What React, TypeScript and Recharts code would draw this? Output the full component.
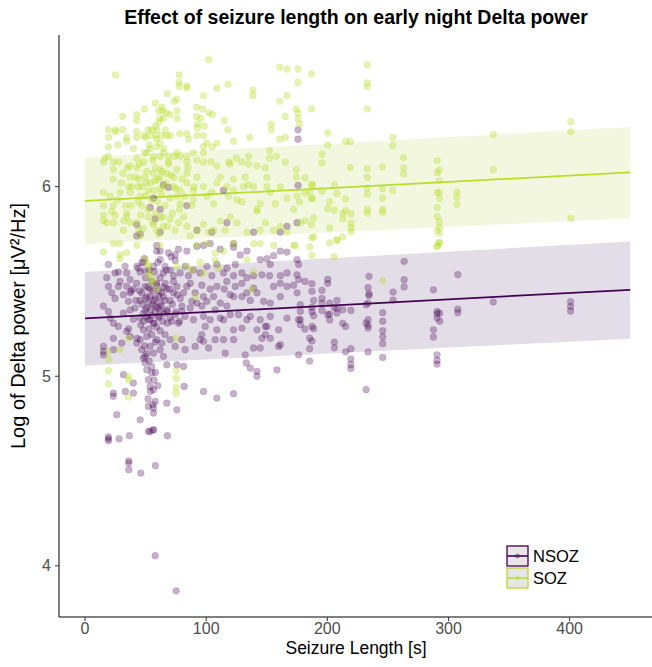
import React from "react";
import { ComposedChart, XAxis, YAxis, Area, Line, Scatter } from "recharts";

// Seizure length [s] vs log Delta power, NSOZ channels
const nsozPoints: [number, number][] = [
  [59.2,5.69],[59.2,5.66],[68.9,5.65],[74.4,5.64],[77.1,5.67],[84.0,5.66],[92.3,5.685],[97.8,5.69],[103.3,5.70],[111.6,5.67],
  [122.6,5.70],[122.6,5.68],[128.1,5.64],[133.6,5.66],[144.6,5.615],[150.1,5.62],[155.7,5.636],[161.2,5.66],[166.7,5.655],[175.0,5.615],
  [176.3,5.59],[19.3,5.59],[24.8,5.545],[27.5,5.55],[33.1,5.58],[34.4,5.545],[37.2,5.51],[42.7,5.58],[45.5,5.55],[48.2,5.60],
  [49.6,5.56],[56.5,5.58],[62.0,5.615],[64.7,5.545],[70.3,5.56],[73.0,5.53],[74.4,5.61],[78.5,5.545],[82.6,5.58],[85.4,5.53],
  [89.5,5.56],[95.0,5.545],[100.6,5.58],[104.7,5.53],[108.8,5.59],[114.3,5.545],[117.1,5.57],[122.6,5.53],[124.0,5.59],[129.5,5.545],
  [133.6,5.52],[139.1,5.53],[146.0,5.535],[152.9,5.59],[152.3,5.53],[161.2,5.53],[166.7,5.545],[175.0,5.535],[176.3,5.51],[17.9,5.52],
  [19.3,5.474],[22.0,5.44],[24.8,5.41],[27.5,5.474],[28.9,5.50],[31.7,5.43],[34.4,5.474],[35.8,5.395],[37.2,5.44],[39.9,5.46],
  [42.7,5.49],[45.5,5.40],[46.8,5.44],[49.6,5.474],[51.0,5.42],[52.3,5.386],[53.7,5.46],[56.5,5.40],[59.2,5.49],[60.6,5.45],
  [62.0,5.386],[64.7,5.42],[66.1,5.49],[67.5,5.46],[70.3,5.40],[73.0,5.44],[75.8,5.474],[78.5,5.41],[81.3,5.44],[84.0,5.474],
  [86.8,5.49],[88.2,5.395],[90.9,5.44],[92.3,5.386],[96.4,5.48],[97.8,5.42],[100.6,5.395],[103.3,5.46],[106.1,5.42],[108.8,5.474],
  [111.6,5.386],[114.9,5.46],[117.1,5.50],[119.8,5.43],[122.6,5.42],[124.0,5.474],[129.5,5.49],[129.5,5.42],[133.6,5.44],[136.4,5.40],
  [139.1,5.465],[141.9,5.44],[147.4,5.395],[152.9,5.386],[155.7,5.474],[161.2,5.49],[161.2,5.42],[166.7,5.474],[172.2,5.48],[175.0,5.44],
  [177.7,5.377],[15.2,5.37],[19.3,5.342],[20.7,5.307],[23.4,5.28],[27.5,5.263],[31.7,5.333],[37.2,5.35],[41.3,5.36],[45.5,5.307],
  [48.2,5.29],[49.6,5.35],[51.0,5.316],[53.7,5.298],[56.5,5.28],[57.9,5.37],[60.6,5.316],[62.0,5.35],[67.5,5.342],[71.6,5.29],
  [74.4,5.325],[77.1,5.28],[79.9,5.342],[82.6,5.316],[86.8,5.36],[89.5,5.298],[96.4,5.37],[97.8,5.316],[99.2,5.263],[103.3,5.298],
  [107.4,5.35],[111.6,5.307],[114.3,5.298],[117.1,5.37],[119.8,5.325],[122.6,5.245],[126.7,5.325],[129.5,5.254],[133.6,5.298],[136.4,5.316],
  [141.9,5.245],[144.6,5.298],[148.8,5.263],[152.9,5.316],[159.8,5.245],[166.7,5.307],[176.3,5.298],[177.7,5.342],[15.2,5.157],[15.2,5.131],
  [15.2,5.113],[23.4,5.20],[23.4,5.14],[30.3,5.175],[34.4,5.237],[37.2,5.21],[42.7,5.175],[45.5,5.193],[46.8,5.14],[48.2,5.245],
  [49.6,5.105],[51.0,5.21],[53.7,5.157],[56.5,5.122],[59.2,5.193],[62.0,5.14],[63.4,5.175],[64.7,5.105],[70.3,5.193],[74.4,5.157],
  [79.9,5.193],[82.6,5.14],[90.9,5.157],[95.0,5.193],[96.4,5.22],[97.8,5.184],[102.0,5.149],[107.4,5.193],[108.8,5.245],[114.3,5.193],
  [115.7,5.122],[122.6,5.193],[132.2,5.113],[139.1,5.149],[144.6,5.149],[146.0,5.20],[148.8,5.22],[150.1,5.263],[152.9,5.20],[159.8,5.157],
  [161.2,5.166],[176.3,5.113],[31.7,5.008],[23.4,4.911],[23.4,4.894],[26.2,4.797],[33.3,4.92],[39.9,4.964],[39.9,4.911],[48.2,5.096],
  [49.6,5.07],[51.0,5.034],[52.3,4.982],[53.7,4.946],[55.1,5.017],[56.5,4.929],[57.9,4.867],[56.5,4.832],[52.3,4.841],[56.5,4.806],
  [53.7,4.709],[56.5,4.718],[45.5,4.77],[67.5,5.06],[67.5,4.858],[75.8,5.06],[75.8,4.823],[81.3,5.052],[81.8,4.946],[97.8,4.92],
  [108.8,4.885],[122.6,4.908],[133.1,5.07],[136.4,5.043],[141.9,5.026],[141.9,5.00],[158.4,5.034],
  [19.3,4.68],[19.3,4.67],[19.3,4.66],[28.1,4.67],[36.6,4.686],[52.3,4.709],[56.2,4.716],[68.0,4.686],[36.1,4.554],[36.1,4.542],
  [36.1,4.507],[46.0,4.489],[58.1,4.528],[57.9,4.053],[75.2,3.868],
  [64.7,6.01],[68.9,5.996],[56.5,5.94],[53.7,5.89],[62.0,5.88],[57.9,5.83],[42.7,5.80],[45.5,5.75],[62.0,5.76],[42.7,5.74],
  [84.0,5.90],[114.3,5.98],[92.3,5.77],[104.7,5.76],[117.1,5.81],[139.1,5.76],[161.2,5.76],[166.7,5.79],[175.0,5.81],[175.8,6.007],
  [175.8,6.30],[175.8,6.25],
  [45,5.45],[47,5.38],[48,5.33],[50,5.52],[50,5.41],[51,5.36],[52,5.47],[52,5.30],[53,5.56],[53,5.25],
  [54,5.42],[54,5.35],[55,5.50],[55,5.32],[55,5.22],[56,5.45],[56,5.38],[57,5.28],[57,5.55],[58,5.34],
  [58,5.41],[58,5.18],[59,5.48],[59,5.26],[60,5.36],[60,5.60],[61,5.42],[61,5.31],[62,5.24],[62,5.52],
  [63,5.44],[63,5.37],[64,5.29],[65,5.47],[65,5.33],[66,5.40],[66,5.22],[67,5.56],[68,5.35],[68,5.28],
  [70,5.46],[70,5.31],[72,5.38],[73,5.50],[75,5.34],[76,5.43],[78,5.29],[80,5.37],[44,5.57],[46,5.27],
  [49,5.16],[51,5.12],[53,5.08],[55,5.05],[57,4.98],[58,5.02],[60,4.95],[54,4.92],[52,4.88],[56,4.85],
  [42,5.40],[40,5.30],[38,5.45],[36,5.25],[43,5.20],[47,5.60],[49,5.62],[62,5.66],[66,5.58],[71,5.63],
  [181.5,5.50],[187.3,5.488],[187.3,5.448],[188.7,5.40],[187.3,5.363],[187.3,5.34],[188.7,5.319],[187.3,5.263],[188.7,5.251],[181.5,5.249],
  [185.4,5.201],[187.3,5.186],[185.4,5.145],[185.4,5.08],[177.7,5.298],[177.7,5.272],[195.6,5.453],[195.6,5.411],[195.6,5.386],[195.6,5.347],
  [200.3,5.511],[200.3,5.49],[201.9,5.386],[200.3,5.325],[201.9,5.328],[201.9,5.297],[205.8,5.363],[205.8,5.18],[205.8,5.15],[208,5.40],
  [208,5.333],[208,5.358],[212.7,5.351],[212.7,5.279],[215.1,5.263],[215.1,5.129],[219.4,5.347],[219.4,5.145],[219.4,5.092],[219.4,5.062],
  [219.4,5.041],[232,5.377],[233.6,5.467],[234.4,5.527],[234.4,5.435],[234.4,5.426],[233.6,5.386],[232,5.281],[233.6,5.298],[233.6,5.267],
  [233.6,5.254],[233.6,5.128],[232,4.929],[245.7,5.335],[245.7,5.29],[245.7,5.24],[245.7,5.207],[245.7,5.172],[245.7,5.099],[254.3,5.444],
  [254.3,5.402],[263.4,5.606],[263.4,5.509],[263.4,5.471],[287.6,5.456],[287.6,5.245],[287.6,5.207],[290.6,5.342],[290.6,5.33],[290.6,5.307],
  [292.8,5.333],[292.8,5.29],[290.6,5.113],[290.6,5.083],[290.6,5.064],[307.7,5.536],[307.7,5.354],[307.7,5.335],[336.9,5.392],[400.8,5.393],
  [400.8,5.368],[400.8,5.344]
];

// Seizure length [s] vs log Delta power, SOZ channels
const sozPoints: [number, number][] = [
  [25.1,6.59],[102.0,6.67],[160.6,6.63],[166.7,6.62],[175.8,6.62],[77.7,6.59],[77.7,6.55],[77.7,6.53],[84.0,6.53],[84.0,6.52],
  [108.8,6.52],[117.9,6.54],[138.6,6.51],[138.6,6.48],[175.8,6.55],[67.8,6.49],[75.5,6.46],[73.6,6.45],[97.8,6.48],[160.6,6.45],
  [166.7,6.48],[31.1,6.37],[42.7,6.38],[42.7,6.35],[49.0,6.41],[60.9,6.40],[63.4,6.42],[67.0,6.39],[61.7,6.36],[64.7,6.36],
  [70.3,6.38],[76.0,6.40],[76.0,6.36],[92.0,6.42],[97.0,6.41],[102.0,6.39],[105.2,6.38],[114.9,6.35],[92.0,6.37],[95.6,6.36],
  [98.4,6.32],[92.8,6.33],[92.8,6.31],[117.9,6.30],[135.8,6.26],[153.7,6.33],[153.7,6.30],[165.3,6.37],[174.4,6.41],[175.8,6.39],
  [175.8,6.36],[177.1,6.33],[19.3,6.30],[25.1,6.30],[31.1,6.30],[19.3,6.26],[25.1,6.29],[34.4,6.26],[34.4,6.24],[42.7,6.29],
  [42.7,6.26],[48.2,6.27],[52.3,6.30],[53.2,6.27],[58.1,6.32],[59.2,6.30],[58.1,6.27],[63.4,6.27],[66.1,6.30],[67.5,6.27],
  [70.3,6.27],[78.2,6.28],[84.0,6.28],[85.4,6.25],[92.3,6.27],[97.8,6.27],[100.6,6.23],[105.0,6.21],[97.8,6.21],[108.8,6.23],
  [122.6,6.24],[160.6,6.25],[165.3,6.26],[19.3,6.21],[27.0,6.22],[19.3,6.16],[16.5,6.15],[15.2,6.13],[23.4,6.13],[23.4,6.09],
  [22.9,6.04],[27.8,6.13],[31.1,6.07],[37.2,6.11],[37.2,6.05],[42.7,6.15],[42.7,6.10],[48.2,6.13],[51.0,6.18],[53.7,6.20],
  [56.5,6.16],[59.2,6.21],[62.0,6.23],[64.7,6.18],[68.9,6.16],[68.9,6.13],[75.8,6.18],[78.5,6.16],[84.0,6.16],[84.0,6.13],
  [89.5,6.18],[92.3,6.14],[97.8,6.18],[97.8,6.13],[103.9,6.13],[108.8,6.11],[118.5,6.13],[119.8,6.12],[124.8,6.15],[129.5,6.13],
  [135.0,6.16],[135.0,6.12],[141.9,6.11],[148.8,6.10],[152.3,6.15],[152.3,6.19],[157.9,6.16],[165.3,6.13],[174.4,6.09],[174.4,6.05],
  [15.2,5.97],[20.7,5.95],[15.2,5.90],[15.2,5.85],[22.0,5.87],[23.4,5.90],[28.9,5.97],[33.3,5.90],[34.4,5.86],[37.2,5.97],
  [38.6,6.00],[44.1,6.04],[44.1,6.00],[45.5,5.95],[46.8,5.90],[49.6,6.05],[50.4,6.02],[52.3,5.98],[56.5,6.07],[57.9,6.03],
  [62.0,6.09],[62.0,6.05],[62.0,5.99],[64.7,6.00],[67.5,6.07],[73.0,6.05],[73.0,6.00],[75.8,5.95],[78.5,5.91],[78.5,5.98],
  [84.0,6.07],[84.0,6.02],[89.5,5.98],[89.5,5.93],[92.3,6.05],[97.8,6.00],[100.6,5.95],[104.7,5.97],[106.1,5.91],[108.8,6.02],
  [111.6,6.05],[117.1,6.00],[118.5,5.95],[122.6,6.04],[122.6,5.98],[125.4,5.93],[129.5,5.92],[130.9,6.00],[132.2,6.05],[135.0,6.01],
  [139.1,6.00],[141.9,5.88],[144.6,5.91],[150.1,6.05],[150.1,6.00],[152.9,5.97],[157.0,5.91],[161.2,6.00],[166.7,5.94],[172.2,5.88],
  [175.0,5.95],[177.1,5.92],[15.2,5.82],[17.9,5.81],[23.4,5.81],[24.8,5.85],[31.7,5.77],[34.4,5.84],[37.2,5.81],[42.7,5.81],
  [44.1,5.77],[45.5,5.74],[52.3,5.84],[56.5,5.81],[59.2,5.77],[62.0,5.84],[64.7,5.79],[70.3,5.83],[74.4,5.77],[77.1,5.81],
  [81.3,5.84],[84.0,5.79],[86.8,5.74],[92.3,5.77],[97.8,5.80],[102.0,5.76],[106.1,5.77],[111.6,5.82],[115.7,5.77],[119.8,5.84],
  [125.4,5.81],[133.6,5.76],[141.9,5.87],[144.6,5.77],[148.8,5.81],[155.7,5.77],[161.2,5.79],[166.7,5.76],[172.2,5.69],[177.7,5.81],
  [23.4,5.70],[28.4,5.70],[42.7,5.69],[62.0,5.69],[92.3,5.69],[100.6,5.70],[122.6,5.70],[139.1,5.70],[144.6,5.70],[155.7,5.69],
  [173.6,5.69],
  [15.2,5.655],[28.9,5.64],[28.9,5.62],[34.4,5.65],[49.6,5.615],[52.3,5.59],[52.3,5.58],[53.7,5.545],[56.5,5.51],[75.8,5.58],
  [84.0,5.58],[88.2,5.56],[95.0,5.60],[97.8,5.545],[107.4,5.65],[107.4,5.61],[110.2,5.57],[114.3,5.66],[133.6,5.615],[139.1,5.55],
  [52.3,5.53],[55.1,5.495],[59.2,5.46],[90.9,5.42],[137.8,5.46],
  [35.8,5.20],[19.3,5.13],[28.4,5.14],[19.3,5.09],[19.3,5.03],[35.8,5.00],[35.8,4.98],[19.3,4.96],[35.8,4.89],[75.2,5.20],
  [75.2,5.03],[75.2,4.99],[75.2,4.94],[75.2,4.91],
  [40,6.20],[42,6.05],[44,5.92],[45,6.12],[46,5.85],[47,6.00],[48,5.78],[49,6.18],[50,5.95],[51,6.08],
  [52,5.88],[53,6.22],[54,6.02],[55,5.93],[56,6.14],[56,5.80],[57,5.98],[58,6.10],[58,5.86],[59,6.25],
  [60,5.92],[60,6.04],[61,5.75],[62,6.16],[63,5.96],[64,6.08],[64,5.84],[65,6.20],[66,5.90],[67,6.02],
  [68,5.79],[69,6.12],[70,5.94],[71,6.06],[72,5.86],[74,6.16],[75,5.99],[76,6.09],[78,5.88],[80,6.04],
  [82,5.95],[85,6.10],[88,5.90],[90,6.00],[36,6.00],[38,5.90],[35,6.10],[32,5.82],[30,6.02],[27,5.93],
  [61,6.34],[55,6.30],[50,6.26],[64,6.40],[58,6.44],
  [187,6.595],[187,6.41],[187,6.01],[187,5.937],[187,5.80],[187,5.73],[233,6.642],[233,6.547],[233,6.528],[233,6.41],
  [233,6.095],[233,6.05],[233,5.993],[233,5.96],[233,5.88],[233,5.86],[245.6,6.105],[245.6,5.988],[245.6,5.94],[245.6,5.88],
  [245.6,5.865],[254,6.26],[254,6.215],[254,5.98],[263,6.153],[263,6.10],[263,6.067],[290.6,6.137],[292.5,6.088],[290.6,6.074],
  [292.5,6.032],[290.6,5.97],[292.5,5.97],[292.5,5.938],[290.6,5.89],[290.6,5.843],[292.5,5.815],[292.5,5.785],[290.6,5.768],[292.5,5.755],
  [292.5,5.705],[290.6,5.685],[307,5.972],[307,5.944],[307,5.907],[337,6.276],[337,6.09],[401,6.343],[401,6.289],[401,5.833],
  [181.5,6.046],[181.5,5.965],[185.4,5.970],[187.6,6.009],[187.6,5.938],[188.7,5.835],[181.8,5.821],[185.4,5.682],[188.7,5.735],[195.6,6.171],
  [195.6,6.125],[195.6,5.977],[200.3,6.283],[200.3,6.22],[200.3,5.884],[201.9,5.919],[201.9,5.782],[201.9,5.703],[205.8,6.011],[205.8,5.877],
  [208,5.963],[208,5.72],[212.7,5.859],[212.7,5.831],[212.7,5.735],[215.1,6.239],[219,6.236],[215.1,5.935],[215.1,5.873],[219,6.10],
  [219.6,5.857],[219.6,5.808],[219.6,5.784],[219.6,5.761],
  [187.3,5.638],[205.8,5.631],[208,5.717],[245.7,5.504],[290.6,5.687],[292.5,5.703]
];

// Fitted regression lines and confidence bands
const fitLength = [0, 450];
const nsozFit = [5.305, 5.456];
const nsozLower = [5.057, 5.198];
const nsozUpper = [5.55, 5.711];
const sozFit = [5.925, 6.075];
const sozLower = [5.698, 5.833];
const sozUpper = [6.155, 6.315];

const xTicks = [0, 100, 200, 300, 400];
const yTicks = [4, 5, 6];
const groups = ["NSOZ", "SOZ"];

const NSOZ_COLOR = "#440154";
const SOZ_COLOR = "#b8de29";
const NSOZ_BAND = "#e2dde6";
const SOZ_BAND = "#f3f7e0";
const FONT = "'Liberation Sans', Arial, Helvetica, sans-serif";

const fitData = fitLength.map((x, i) => ({
  x,
  nBand: [nsozLower[i], nsozUpper[i]],
  nFit: nsozFit[i],
  sBand: [sozLower[i], sozUpper[i]],
  sFit: sozFit[i],
}));

const nsozData = nsozPoints.map(([x, y]) => ({ x, y }));
const sozData = sozPoints.map(([x, y]) => ({ x, y }));

const dot = (color: string, alpha: number) => (props: any) => (
  <circle cx={props.cx} cy={props.cy} r={3.4} fill={color} fillOpacity={alpha} stroke={color} strokeOpacity={alpha} strokeWidth={0.4} />
);

export default function App() {
  return (
    <div style={{ position: "absolute", left: 0, top: 0, width: 652, height: 667, fontFamily: FONT, background: "#fff" }}>
      <ComposedChart width={652} height={667} data={fitData} margin={{ top: 35, right: 0, bottom: 0, left: 0 }}>
        <XAxis
          type="number"
          dataKey="x"
          domain={[-21.5, 468]}
          ticks={xTicks}
          allowDataOverflow
          height={50}
          tickSize={4}
          tickMargin={2}
          stroke="#000"
          tickLine={{ stroke: "#333" }}
          tick={{ fill: "#4d4d4d", fontSize: 16, fontFamily: FONT }}
        />
        <YAxis
          type="number"
          dataKey="y"
          domain={[3.73, 6.8]}
          ticks={yTicks}
          allowDataOverflow
          width={59}
          tickSize={4}
          tickMargin={4}
          stroke="#000"
          tickLine={{ stroke: "#333" }}
          tick={{ fill: "#4d4d4d", fontSize: 16, fontFamily: FONT }}
        />
        <Area type="linear" dataKey="nBand" stroke="none" fill={NSOZ_BAND} fillOpacity={1} isAnimationActive={false} />
        <Area type="linear" dataKey="sBand" stroke="none" fill={SOZ_BAND} fillOpacity={1} isAnimationActive={false} />
        <Scatter name="NSOZ" data={nsozData} shape={dot(NSOZ_COLOR, 0.3)} isAnimationActive={false} />
        <Scatter name="SOZ" data={sozData} shape={dot(SOZ_COLOR, 0.36)} isAnimationActive={false} />
        <Line type="linear" dataKey="nFit" stroke={NSOZ_COLOR} strokeWidth={1.8} dot={false} isAnimationActive={false} />
        <Line type="linear" dataKey="sFit" stroke={SOZ_COLOR} strokeWidth={1.8} dot={false} isAnimationActive={false} />
      </ComposedChart>
      <svg width={652} height={667} style={{ position: "absolute", left: 0, top: 0, pointerEvents: "none" }}>
        <text x={356} y={24} textAnchor="middle" fontSize={19.5} fontWeight="bold" fill="#000" fontFamily={FONT}>
          Effect of seizure length on early night Delta power
        </text>
        <text x={356} y={654} textAnchor="middle" fontSize={17.5} fill="#000" fontFamily={FONT}>
          Seizure Length [s]
        </text>
        <text x={25} y={326} textAnchor="middle" fontSize={20} fill="#000" fontFamily={FONT} transform="rotate(-90 25 326)">
          Log of Delta power [μV²/Hz]
        </text>
        {groups.map((g, i) => {
          const c = i === 0 ? NSOZ_COLOR : SOZ_COLOR;
          const y0 = 546 + i * 22;
          return (
            <g key={g}>
              <rect x={507} y={y0} width={21} height={20} fill="#e6e6e6" stroke={c} strokeWidth={1.3} />
              <line x1={507} x2={528} y1={y0 + 10} y2={y0 + 10} stroke={c} strokeWidth={1.6} />
              <circle cx={517.5} cy={y0 + 10} r={2.4} fill={c} fillOpacity={0.4} />
              <text x={533} y={y0 + 16} fontSize={16.5} fill="#000" fontFamily={FONT}>{g}</text>
            </g>
          );
        })}
      </svg>
    </div>
  );
}
